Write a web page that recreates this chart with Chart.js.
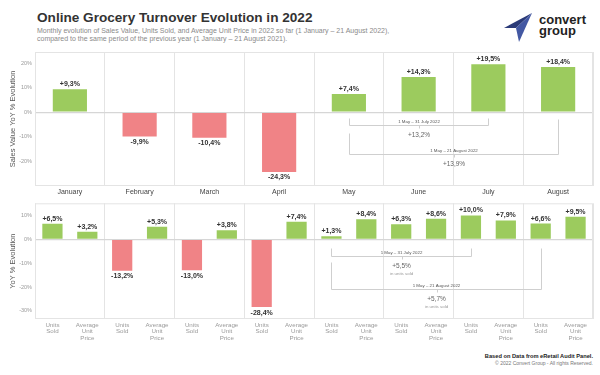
<!DOCTYPE html>
<html><head><meta charset="utf-8">
<script src="https://cdn.jsdelivr.net/npm/chart.js@4.4.0/dist/chart.umd.min.js"></script>
<style>
html,body{margin:0;padding:0;background:#fff;width:600px;height:375px;overflow:hidden;font-family:"Liberation Sans",Arial,sans-serif;}
.abs{position:absolute;white-space:nowrap}
#title{left:37px;top:10px;font-size:13.6px;font-weight:bold;color:#333;line-height:16px}
#sub{left:37px;top:26.75px;font-size:7px;color:#8a8a8a;line-height:8.5px}
#logoText{left:539px;top:14px;font-size:13px;font-weight:bold;color:#222;line-height:11px}
#foot1{right:7px;top:352.5px;font-size:5.7px;font-weight:bold;color:#222;line-height:7px}
#foot2{right:7px;top:360px;font-size:5px;color:#777;line-height:6px}
#c1{position:absolute;left:0;top:45px}
#c2{position:absolute;left:0;top:197px}
</style>
</head><body>
<div id="title" class="abs">Online Grocery Turnover Evolution in 2022</div>
<div id="sub" class="abs">Monthly evolution of Sales Value, Units Sold, and Average Unit Price in 2022 so far (1 January – 21 August 2022),<br>compared to the same period of the previous year (1 January – 21 August 2021).</div>
<svg class="abs" style="left:0;top:0" width="600" height="50">
  <polygon points="532,13 504,28 516,28" fill="#2a3a78"/>
  <polygon points="532,13 516,28 519,42" fill="#4358a3"/>
</svg>
<div id="logoText" class="abs">convert<br>group</div>
<canvas id="c1" width="600" height="152"></canvas>
<canvas id="c2" width="600" height="150"></canvas>
<div id="foot1" class="abs">Based on Data from eRetail Audit Panel.</div>
<div id="foot2" class="abs">© 2022 Convert Group - All rights Reserved.</div>
<script>
// ---- data ----
const months = ['January','February','March','April','May','June','July','August'];
const salesValueYoY = [9.3, -9.9, -10.4, -24.3, 7.4, 14.3, 19.5, 18.4];
const unitsSoldYoY = [6.5, -13.2, -13.0, -28.4, 1.3, 6.3, 10.0, 6.6];
const avgUnitPriceYoY = [3.2, 5.3, 3.8, 7.4, 8.4, 8.6, 7.9, 9.5];
const subCategories = [['Units','Sold'], ['Average','Unit','Price']];
const topTicks = [-20, -10, 0, 10, 20];
const bottomTicks = [-30, -20, -10, 0, 10];
const periodLabels = ['1 May – 31 July 2022', '1 May – 21 August 2022'];
const salesPeriodYoY = ['+13,2%', '+13,9%'];
const unitsPeriodYoY = ['+5,5%', '+5,7%'];
const unitsNote = 'in units sold';

// ---- helpers ----
const GREEN = '#9ccb5e', RED = '#f08386', GRID = '#e4e4e4';
const fmt = v => (v > 0 ? '+' : '') + v.toFixed(1).replace('.', ',') + '%';
const colorsFor = arr => arr.map(v => v >= 0 ? GREEN : RED);
const FONT = '"Liberation Sans", Arial, sans-serif';

const bottomLabels = [], bottomValues = [];
months.forEach((m, i) => {
  bottomLabels.push(subCategories[0], subCategories[1]);
  bottomValues.push(unitsSoldYoY[i], avgUnitPriceYoY[i]);
});

const boxAndLabels = {
  id: 'boxAndLabels',
  beforeDatasetsDraw(chart) {
    const {ctx, chartArea: a} = chart;
    ctx.save();
    ctx.strokeStyle = GRID; ctx.lineWidth = 1;
    ctx.strokeRect(a.left + 0.5, a.top + 0.5, a.right - a.left - 1, a.bottom - a.top - 1);
    ctx.restore();
  },
  afterDatasetsDraw(chart) {
    const {ctx} = chart;
    const meta = chart.getDatasetMeta(0);
    const vals = chart.data.datasets[0].data;
    ctx.save();
    ctx.font = 'bold 7px ' + FONT;
    ctx.fillStyle = '#333';
    ctx.textAlign = 'center';
    ctx.textBaseline = 'middle';
    meta.data.forEach((bar, i) => {
      const v = vals[i];
      ctx.fillText(fmt(v), bar.x, v >= 0 ? bar.y - 5 : bar.y + 5.5);
    });
    // brackets
    const br = chart.options.plugins.brackets;
    if (br) {
      const xs = chart.scales.x, ys = chart.scales.y;
      const Y = v => Math.round(ys.getPixelForValue(v)) + 0.5;
      br.items.forEach(b => {
        const x1 = Math.round(xs.getPixelForValue(b.from)) + 0.5;
        const x2 = Math.round(xs.getPixelForValue(b.to)) + 0.5;
        const yb = Y(b.bottom);
        const xm = (x1 + x2) / 2;
        ctx.strokeStyle = '#cfcfcf'; ctx.lineWidth = 1;
        ctx.beginPath();
        ctx.moveTo(x1, Y(b.leftTop)); ctx.lineTo(x1, yb); ctx.lineTo(x2, yb); ctx.lineTo(x2, Y(b.rightTop));
        ctx.moveTo(Math.round(xm) + 0.5, yb); ctx.lineTo(Math.round(xm) + 0.5, yb + 3);
        ctx.stroke();
        ctx.fillStyle = '#555';
        ctx.font = '4.4px ' + FONT;
        ctx.fillText(b.label, xm, yb - 4);
        ctx.fillStyle = '#666';
        ctx.font = '6.5px ' + FONT;
        ctx.fillText(b.value, xm, yb + 9.5);
        if (b.note) {
          ctx.fillStyle = '#999';
          ctx.font = '4.4px ' + FONT;
          ctx.fillText(b.note, xm, yb + 17);
        }
      });
    }
    ctx.restore();
  }
};

function makeOptions(min, max, ticks, yTitle, xFont, xColor, xPad, xHeight, padTop, gridFn, brackets) {
  return {
    responsive: false, animation: false, devicePixelRatio: 1,
    layout: {padding: {left: 0, right: 7, top: padTop, bottom: 0}},
    plugins: {legend: {display: false}, tooltip: {enabled: false}, brackets: brackets},
    scales: {
      x: {
        offset: true,
        grid: {offset: true, drawTicks: false, color: gridFn, lineWidth: 1},
        border: {display: false},
        ticks: {autoSkip: false, maxRotation: 0, minRotation: 0, padding: xPad, color: xColor, font: xFont},
        afterFit: s => { s.height = xHeight; }
      },
      y: {
        min: min, max: max,
        afterBuildTicks: s => { s.ticks = ticks.map(v => ({value: v})); },
        grid: {drawTicks: false, color: c => (c.tick && c.tick.value === 0) ? '#d6d6d6' : 'rgba(0,0,0,0)', lineWidth: 1.3},
        border: {display: false},
        ticks: {padding: 3, color: '#9a9a9a', font: {family: FONT, size: 5.5}, callback: v => v + '%'},
        title: {display: true, text: yTitle, color: '#555', font: {family: FONT, size: 7.5}, padding: {top: 8, bottom: 0}},
        afterFit: s => { s.width = 35; }
      }
    }
  };
}

new Chart(document.getElementById('c1'), {
  type: 'bar',
  data: {labels: months, datasets: [{data: salesValueYoY, backgroundColor: colorsFor(salesValueYoY), categoryPercentage: 1, barPercentage: 0.49}]},
  options: makeOptions(-30, 24.5, topTicks, 'Sales Value YoY % Evolution',
    {family: FONT, size: 7}, '#444', 2, 11, 7,
    c => GRID,
    {items: [
      {from: 4, to: 6, leftTop: -2.3, rightTop: -2.3, bottom: -5.3, label: periodLabels[0], value: salesPeriodYoY[0]},
      {from: 4, to: 7, leftTop: -8.5, rightTop: -2.7, bottom: -16.8, label: periodLabels[1], value: salesPeriodYoY[1]}
    ]}),
  plugins: [boxAndLabels]
});

new Chart(document.getElementById('c2'), {
  type: 'bar',
  data: {labels: bottomLabels, datasets: [{data: bottomValues, backgroundColor: colorsFor(bottomValues), categoryPercentage: 1, barPercentage: 0.58}]},
  options: makeOptions(-33.4, 15.1, bottomTicks, 'YoY % Evolution',
    {family: FONT, size: 6.2, lineHeight: 1.08}, '#9a9a9a', 2.5, 28, 3,
    c => (c.index === undefined || c.index % 2 === 0) ? GRID : 'rgba(0,0,0,0)',
    {items: [
      {from: 8, to: 12, leftTop: -3.7, rightTop: -3.7, bottom: -6.9, label: periodLabels[0], value: unitsPeriodYoY[0], note: unitsNote},
      {from: 8, to: 14, leftTop: -9.4, rightTop: -3.7, bottom: -20.9, label: periodLabels[1], value: unitsPeriodYoY[1], note: unitsNote}
    ]}),
  plugins: [boxAndLabels]
});
</script>
</body></html>
